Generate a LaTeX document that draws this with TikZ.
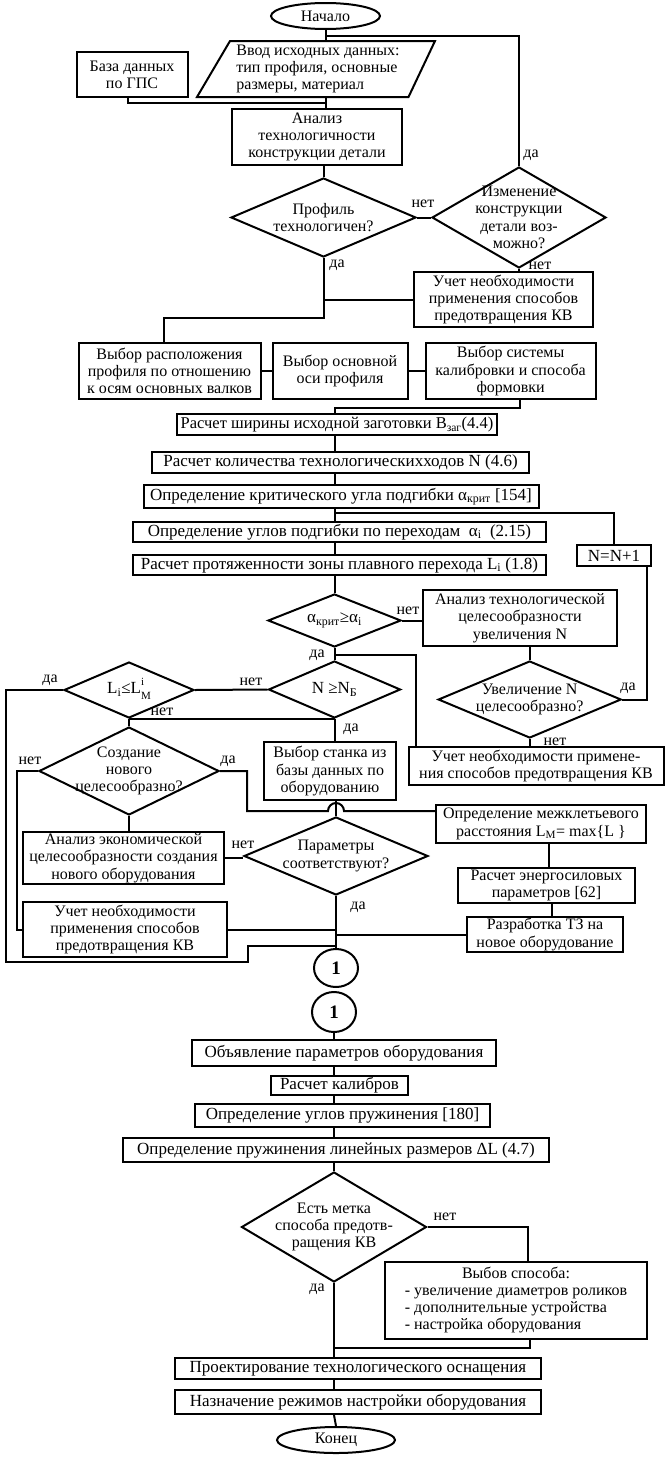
\documentclass[tikz,border=0pt]{standalone}
\usepackage{fontspec}
\setmainfont{Liberation Serif}
\usetikzlibrary{shapes.geometric}
\begin{document}
\begin{tikzpicture}[x=1pt,y=-1pt, line width=2pt,
  font=\fontsize{16}{17.3}\selectfont,
  box/.style={draw, rectangle, align=center, inner sep=0pt},
  one/.style={box, font=\fontsize{17}{17}\selectfont},
  dec/.style={draw, diamond, inner sep=0pt},
  term/.style={draw, ellipse, inner sep=0pt},
  lab/.style={inner sep=0pt},
  conn/.style={draw, ellipse, inner sep=0pt, font=\fontsize{19}{19}\selectfont\bfseries}]
\useasboundingbox[fill=white] (0,0) rectangle (665,1459);

% ---------- nodes ----------
\node[term, minimum width=109pt, minimum height=26pt] (start) at (325.5,16) {Начало};
\coordinate (pA) at (197,97);
\coordinate (pB) at (230,41);
\coordinate (pC) at (435,41);
\coordinate (pD) at (408.5,97);
\draw (pA) -- (pB) -- (pC) -- (pD) -- cycle;
\node[lab, align=left] (inp) at (318,69) {Ввод исходных данных:\\тип профиля, основные\\размеры, материал};
\node[box, minimum width=111pt, minimum height=45pt] (db) at (132,74.5) {База данных\\по ГПС};
\node[box, minimum width=170pt, minimum height=56pt] (an1) at (317,137) {Анализ\\технологичности\\конструкции детали};
\node[dec, minimum width=185pt, minimum height=79pt,
      label={[align=center]center:{Профиль\\технологичен?}}] (d1) at (323.5,217.5) {};
\node[dec, minimum width=174pt, minimum height=101pt,
      label={[align=center]center:{Изменение\\конструкции\\детали воз-\\можно?}}] (d2) at (519,217.5) {};
\node[box, minimum width=179pt, minimum height=55pt] (kv1) at (503.5,299.5) {Учет необходимости\\применения способов\\предотвращения КВ};
\node[box, minimum width=182pt, minimum height=56pt] (b1) at (169.5,371) {Выбор расположения\\профиля по отношению\\к осям основных валков};
\node[box, minimum width=135pt, minimum height=56pt] (b2) at (340,371) {Выбор основной\\оси профиля};
\node[box, minimum width=170pt, minimum height=56pt] (b3) at (510.6,371) {Выбор системы\\калибровки и способа\\формовки};
\node[one, minimum width=320pt, minimum height=21pt, font=\fontsize{16.5}{17}\selectfont] (r1) at (337,424.5) {Расчет ширины исходной заготовки B\textsubscript{заг}(4.4)};
\node[one, minimum width=377pt, minimum height=21pt] (r2) at (340.5,462.5) {Расчет количества технологическихходов N (4.6)};
\node[one, minimum width=395pt, minimum height=23pt] (r3) at (341,496.5) {Определение критического угла подгибки α\textsubscript{крит} [154]};
\node[one, minimum width=413pt, minimum height=20pt] (r4) at (339.5,532) {Определение углов подгибки по переходам\enspace α\textsubscript{i}\enspace (2.15)};
\node[one, minimum width=413pt, minimum height=20pt] (r5) at (339.5,565) {Расчет протяженности зоны плавного перехода L\textsubscript{i} (1.8)};
\node[one, minimum width=74pt, minimum height=21pt] (nn) at (614,555.5) {N=N+1};
\node[dec, minimum width=133pt, minimum height=53pt,
      label={[font=\fontsize{17}{17}\selectfont]center:{α\textsubscript{крит}≥α\textsubscript{i}}}] (d3) at (334.5,620.5) {};
\node[box, minimum width=194pt, minimum height=56pt] (an2) at (520,618) {Анализ технологической\\целесообразности\\увеличения N};
\node[dec, minimum width=183pt, minimum height=77pt,
      label={[align=center]center:{Увеличение N\\целесообразно?}}] (d4) at (529.7,699.5) {};
\node[box, minimum width=255pt, minimum height=38pt] (kv2) at (536,766) {Учет необходимости примене-\\ния способов предотвращения КВ};
\node[dec, minimum width=132pt, minimum height=57pt,
      label={[font=\fontsize{17}{17}\selectfont]center:{N ≥N\textsubscript{Б}}}] (d5) at (334.5,689.5) {};
\node[dec, minimum width=130pt, minimum height=56pt,
      label={[font=\fontsize{17}{17}\selectfont]center:{L\textsubscript{i}≤L\raisebox{-6pt}{\fontsize{11}{13.5}\selectfont\begin{tabular}[b]{@{}l@{}}i\\M\end{tabular}}}}] (d6) at (129,690) {};
\node[box, minimum width=132pt, minimum height=58pt] (st) at (330,771) {Выбор станка из\\базы данных по\\оборудованию};
\node[dec, minimum width=180pt, minimum height=88pt,
      label={[align=center]center:{Создание\\нового\\целесообразно?}}] (d7) at (129,771) {};
\node[box, minimum width=201pt, minimum height=52pt] (an3) at (123.5,858) {Анализ экономической\\целесообразности создания\\нового оборудования};
\node[dec, minimum width=184pt, minimum height=78pt,
      label={[align=center]center:{Параметры\\соответствуют?}}] (d8) at (336,856) {};
\node[box, minimum width=210pt, minimum height=38pt] (lm) at (541,824) {Определение межклетьевого\\расстояния L\textsubscript{M}= max\{L \}};
\node[box, minimum width=177pt, minimum height=35pt] (en) at (546.5,885.5) {Расчет энергосиловых\\параметров [62]};
\node[box, minimum width=156pt, minimum height=35pt] (tz) at (545,934.5) {Разработка ТЗ на\\новое оборудование};
\node[box, minimum width=204pt, minimum height=55pt] (kv3) at (125,929.5) {Учет необходимости\\применения способов\\предотвращения КВ};
\node[conn, minimum width=44pt, minimum height=38pt] (c1) at (336,968) {1};
\node[conn, minimum width=44pt, minimum height=40pt] (c2) at (334,1012) {1};
\node[one, minimum width=304pt, minimum height=26pt] (ob) at (344,1053) {Объявление параметров оборудования};
\node[one, minimum width=137pt, minimum height=19pt] (kal) at (339.5,1085.5) {Расчет калибров};
\node[one, minimum width=295pt, minimum height=23pt] (pr) at (342.5,1115.5) {Определение углов пружинения [180]};
\node[one, minimum width=426pt, minimum height=24pt] (dl) at (336,1150) {Определение пружинения линейных размеров ΔL (4.7)};
\node[dec, minimum width=185pt, minimum height=110pt,
      label={[align=center]center:{Есть метка\\способа предотв-\\ращения КВ}}] (d9) at (334,1227) {};
\node[box, minimum width=262pt, minimum height=77pt] (vs) at (516,1300.5) {\begin{tabular}{@{}l@{}}\multicolumn{1}{c}{Выбов способа:}\\- увеличение диаметров роликов\\- дополнительные устройства\\- настройка оборудования\end{tabular}};
\node[one, minimum width=366pt, minimum height=21pt] (pj) at (358,1368.5) {Проектирование технологического оснащения};
\node[one, minimum width=366pt, minimum height=24pt] (nz) at (358,1402) {Назначение режимов настройки оборудования};
\node[term, minimum width=118pt, minimum height=26pt] (end) at (336,1440) {Конец};

% ---------- labels ----------
\node[lab] (l1) at (531,155) {да};
\node[lab] (l2) at (423,204) {нет};
\node[lab] (l3) at (540,266) {нет};
\node[lab] (l4) at (337,265) {да};
\node[lab] (l5) at (408,611) {нет};
\node[lab] (l6) at (317,655) {да};
\node[lab] (l7) at (628,688) {да};
\node[lab] (l8) at (555,742) {нет};
\node[lab] (l9) at (251,682) {нет};
\node[lab] (l10) at (50,680) {да};
\node[lab] (l11) at (162,712) {нет};
\node[lab] (l12) at (351,729) {да};
\node[lab] (l13) at (30,761) {нет};
\node[lab] (l14) at (228,761) {да};
\node[lab] (l15) at (243,845) {нет};
\node[lab] (l16) at (358,907) {да};
\node[lab] (l17) at (445,1217) {нет};
\node[lab] (l18) at (317,1289) {да};

% ---------- coordinates ----------
\coordinate (j0) at (325.5,36);
\coordinate (j0b) at (325.5,103);
\coordinate (j1) at (164,318);
\coordinate (j2) at (334.5,408);
\coordinate (j3) at (334.5,513);
\coordinate (j4) at (334.5,655);
\coordinate (j5) at (336,946);
\coordinate (j6) at (334,1348);

% ---------- connectors ----------
\draw (start.south) -- (start.south |- pB);
\draw (j0) -| (d2.north);
\draw (j0 |- pA) -- (j0 |- an1.north);
\draw ([xshift=-4pt]db.south) |- (j0b);
\draw (d1.north |- an1.south) -- (d1.north);
\draw (d1.east) -- (d2.west);
\draw (d2.south) -- (d2.south |- kv1.north);
\draw (d1.south) |- (j1) -- (j1 |- b1.north);
\draw (kv1.west) -- (kv1.west -| d1.south);
\draw (b1.east) -- (b2.west);
\draw (b2.east) -- (b3.west);
\draw ([xshift=9.4pt]b3.south) |- (j2) -- (j2 |- r1.north);
\draw (j2 |- r1.south) -- (j2 |- r2.north);
\draw (j2 |- r2.south) -- (j2 |- r3.north);
\draw (j2 |- r3.south) -- (j2 |- r4.north);
\draw (j3) -| (nn.north);
\draw (j2 |- r4.south) -- (j2 |- r5.north);
\draw (j2 |- r5.south) -- (d3.north);
\draw (d3.east) -- (d3.east -| an2.west);
\draw (d4.north |- an2.south) -- (d4.north);
\draw (d4.south) -- (d4.south |- kv2.north);
\draw (d4.east) -| ([xshift=-5pt]nn.south east);
\draw (d3.south) -- (d5.north);
\draw (j4) -| ([xshift=8.5pt]kv2.north west);
\draw (d5.west) -- (d6.east);
\draw (d6.west) -- (6,690) -- (6,962) -- (248,962) -- (248,946) -- (j5);
\draw (d6.south) -- (d7.north);
\draw (d6.south) -- (d6.south -| d5.south);
\draw (d5.south) -- (d5.south |- st.north);
\draw (d7.east) -| (247,811) -- (328,811) arc[start angle=180, end angle=0, radius=8pt] -- (lm.west |- 0,811);
\draw (d7.west) -| ([xshift=-5pt]kv3.west) -- (kv3.west);
\draw (d7.south) -- (d7.south |- an3.north);
\draw (an3.east) -- (an3.east -| d8.west);
\draw (d8.north |- st.south) -- (d8.north);
\draw ([xshift=8pt]lm.south) -- ([xshift=8pt]lm.south |- en.north);
\draw ([xshift=5.5pt]en.south) -- ([xshift=5.5pt]en.south |- tz.north);
\draw (tz.west) -- (tz.west -| d8.south);
\draw (kv3.east) -- (kv3.east -| d8.south);
\draw (d8.south) -- (c1.north);
\draw (c2.south) -- (c2.south |- ob.north);
\draw (c2.south |- ob.south) -- (c2.south |- kal.north);
\draw (c2.south |- kal.south) -- (c2.south |- pr.north);
\draw (c2.south |- pr.south) -- (c2.south |- dl.north);
\draw (c2.south |- dl.south) -- (d9.north);
\draw (d9.east) -| ([xshift=12pt]vs.north);
\draw (d9.south) -- (d9.south |- pj.north);
\draw ([xshift=14pt]vs.south) |- (j6);
\draw (j6 |- pj.south) -- (j6 |- nz.north);
\draw (j6 |- nz.south) -- (end.north);
\end{tikzpicture}
\end{document}
